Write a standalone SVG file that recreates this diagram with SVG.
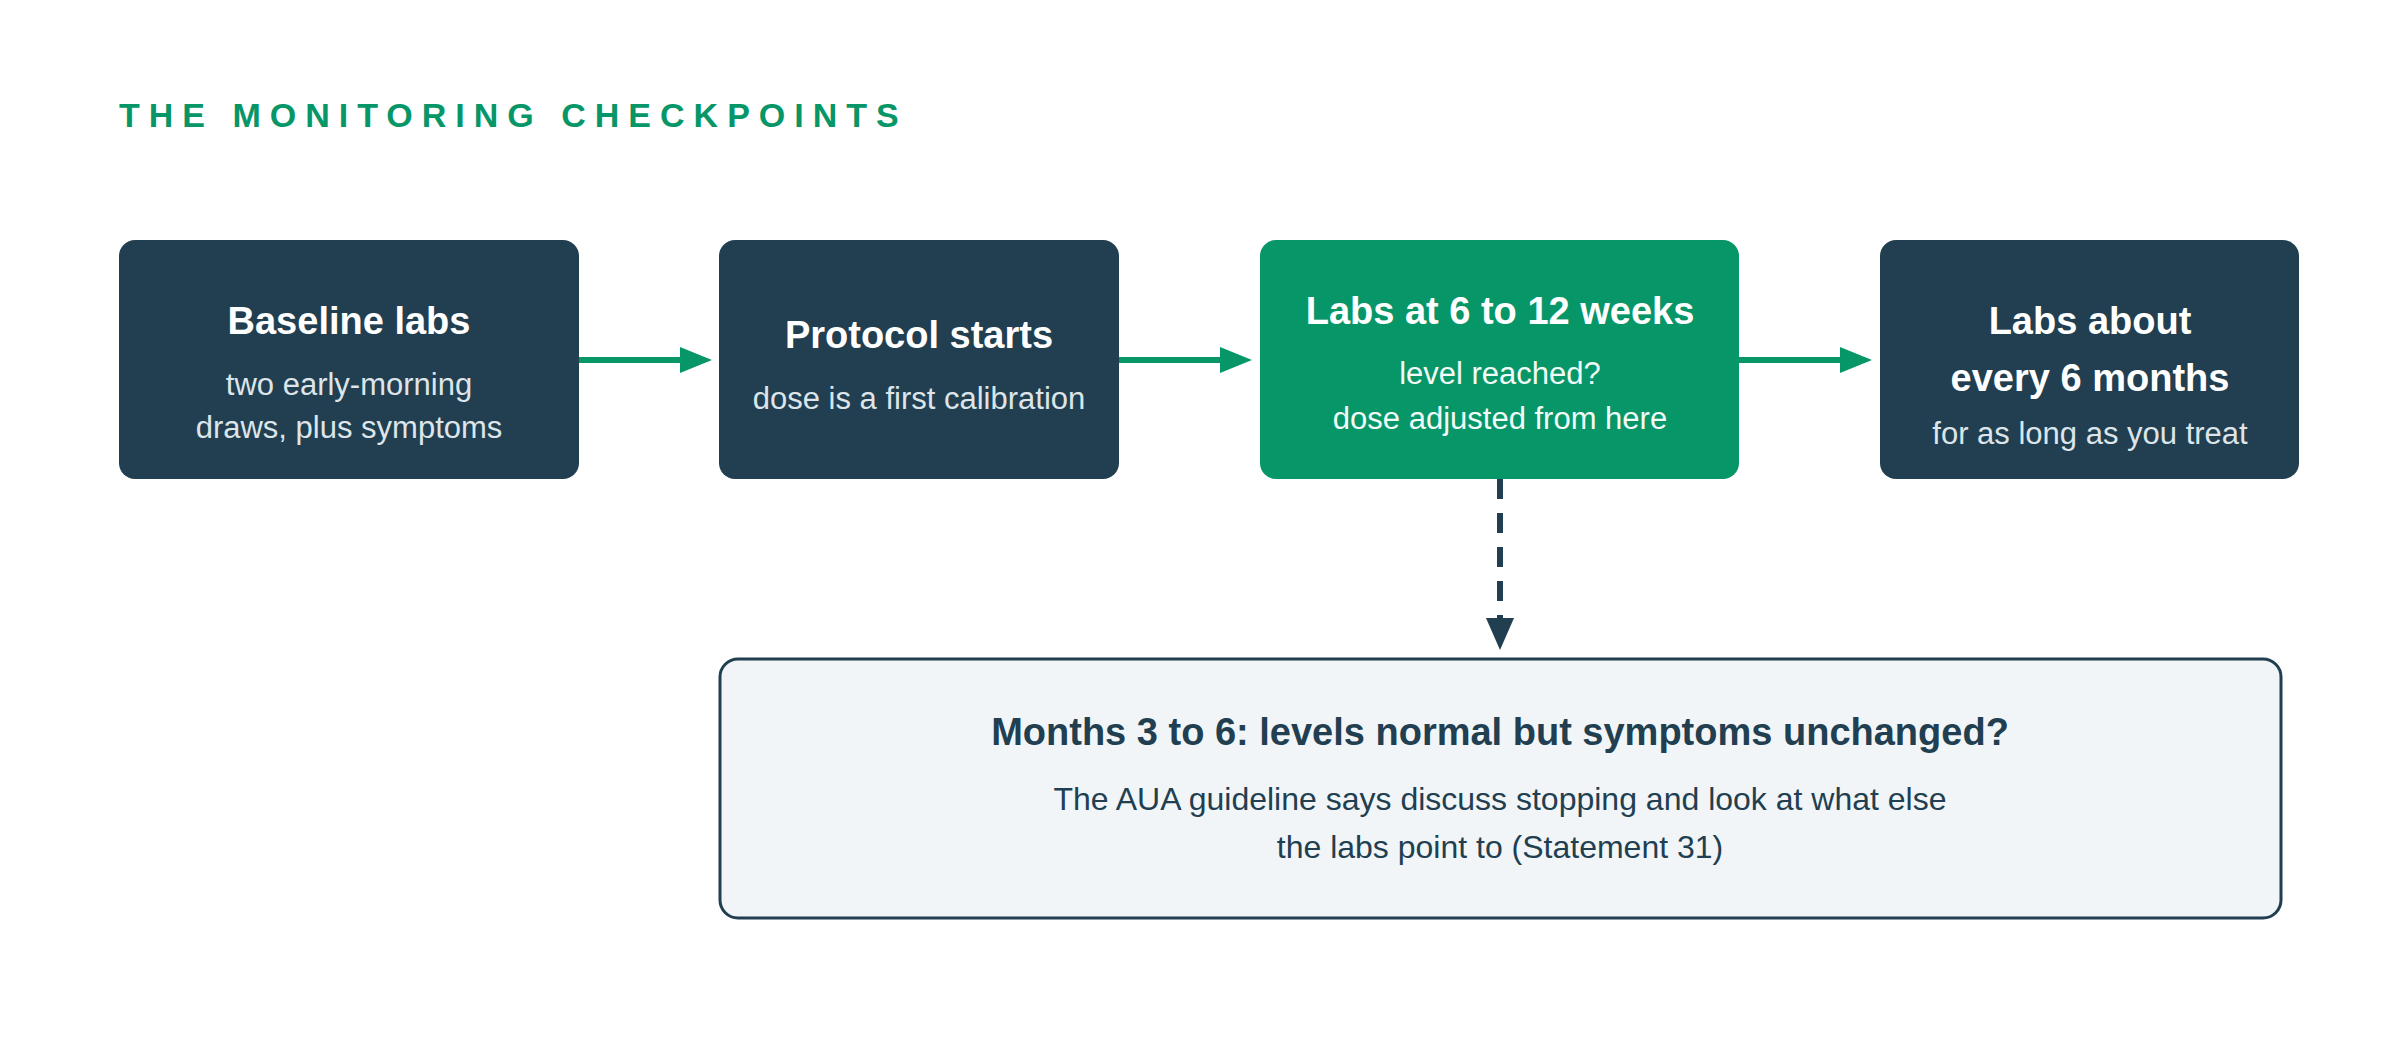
<svg xmlns="http://www.w3.org/2000/svg" width="2400" height="1040" viewBox="0 0 2400 1040">
<defs>
<style>
.t{font-family:"Liberation Sans",Arial,sans-serif;text-anchor:middle}
.h{font-weight:bold;font-size:38px;fill:#fff}
.s{font-size:31px;fill:#dde5ea}
.dark{fill:#213f50}
</style>
<marker id="ag" viewBox="0 0 10 10" refX="9" refY="5" markerWidth="5" markerHeight="5" orient="auto" markerUnits="userSpaceOnUse" style="overflow:visible"><path d="M0,0L10,5L0,10z" fill="#069668" transform="scale(3.2)"/></marker>
<marker id="ad" viewBox="0 0 10 10" refX="9" refY="5" markerWidth="5" markerHeight="5" orient="auto" markerUnits="userSpaceOnUse" style="overflow:visible"><path d="M0,0L10,5L0,10z" fill="#213f50" transform="scale(3.2)"/></marker>
</defs>
<rect width="2400" height="1040" fill="#fff"/>
<text x="119" y="127" font-family="Liberation Sans,Arial,sans-serif" font-weight="bold" font-size="34" letter-spacing="9" fill="#069668">THE MONITORING CHECKPOINTS</text>
<g id="connectors" stroke-width="6">
<line x1="579" y1="360" x2="680" y2="360" stroke="#069668"/><path d="M680,347L712,360L680,373z" fill="#069668"/>
<line x1="1119" y1="360" x2="1220" y2="360" stroke="#069668"/><path d="M1220,347L1252,360L1220,373z" fill="#069668"/>
<line x1="1739" y1="360" x2="1840" y2="360" stroke="#069668"/><path d="M1840,347L1872,360L1840,373z" fill="#069668"/>
<line x1="1500" y1="479" x2="1500" y2="618" stroke="#213f50" stroke-dasharray="20,14"/><path d="M1486,618L1500,650L1514,618z" fill="#213f50"/>
</g>
<g id="n1"><rect x="119" y="240" width="460" height="239" rx="16" class="dark"/>
<text class="t h" x="349" y="334">Baseline labs</text>
<text class="t s" x="349" y="395">two early-morning</text><text class="t s" x="349" y="438">draws, plus symptoms</text></g>
<g id="n2"><rect x="719" y="240" width="400" height="239" rx="16" class="dark"/>
<text class="t h" x="919" y="348">Protocol starts</text>
<text class="t s" x="919" y="409">dose is a first calibration</text></g>
<g id="n3"><rect x="1260" y="240" width="479" height="239" rx="16" fill="#069668"/>
<text class="t h" x="1500" y="324">Labs at 6 to 12 weeks</text>
<text class="t s" x="1500" y="384" fill="#fff" style="fill:#f2fbf7">level reached?</text><text class="t s" x="1500" y="429" style="fill:#f2fbf7">dose adjusted from here</text></g>
<g id="n4"><rect x="1880" y="240" width="419" height="239" rx="16" class="dark"/>
<text class="t h" x="2090" y="334">Labs about</text><text class="t h" x="2090" y="391">every 6 months</text>
<text class="t s" x="2090" y="444">for as long as you treat</text></g>
<g id="n5"><rect x="720" y="659" width="1561" height="259" rx="18" fill="#f1f5f8" stroke="#213f50" stroke-width="3"/>
<text class="t" x="1500" y="745" font-weight="bold" font-size="38" fill="#213f50">Months 3 to 6: levels normal but symptoms unchanged?</text>
<text class="t" x="1500" y="810" font-size="32" fill="#213f50">The AUA guideline says discuss stopping and look at what else</text>
<text class="t" x="1500" y="858" font-size="32" fill="#213f50">the labs point to (Statement 31)</text></g>
</svg>
